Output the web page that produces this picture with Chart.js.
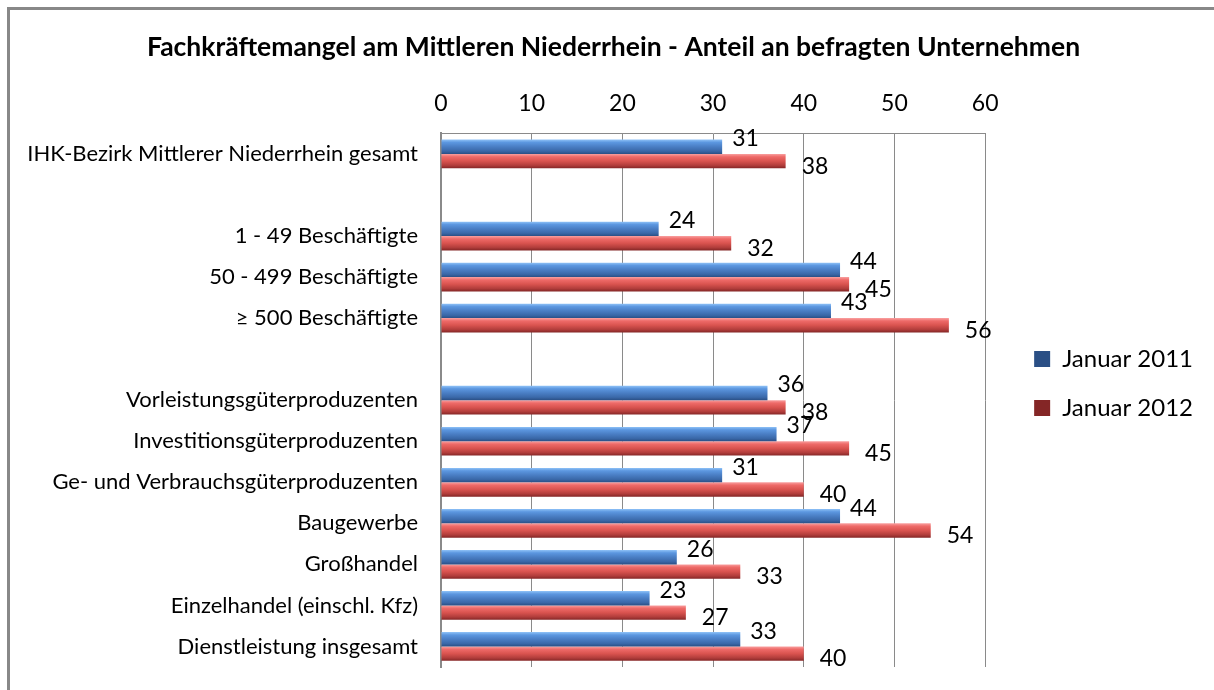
<!DOCTYPE html>
<html>
<head>
<meta charset="utf-8">
<script src="https://cdn.jsdelivr.net/npm/chart.js@4/dist/chart.umd.min.js"></script>
<style>
  html, body { margin: 0; padding: 0; background: #fff; }
  #wrap { position: relative; width: 1214px; height: 690px; overflow: hidden; }
  #frame { position: absolute; left: 7px; top: 7px; width: 1220px; height: 700px;
           border-left: 3px solid #888; border-top: 3px solid #888; box-sizing: border-box; pointer-events: none; }
  canvas { position: absolute; left: 0; top: 0; }
</style>
</head>
<body>
<div id="wrap">
  <canvas id="c" width="1214" height="690"></canvas>
  <div id="frame"></div>
</div>
<script>
const titleText = 'Fachkräftemangel am Mittleren Niederrhein - Anteil an befragten Unternehmen';
const categories = [
  'IHK-Bezirk Mittlerer Niederrhein gesamt',
  '',
  '1 - 49 Beschäftigte',
  '50 - 499 Beschäftigte',
  '≥ 500 Beschäftigte',
  '',
  'Vorleistungsgüterproduzenten',
  'Investitionsgüterproduzenten',
  'Ge- und Verbrauchsgüterproduzenten',
  'Baugewerbe',
  'Großhandel',
  'Einzelhandel (einschl. Kfz)',
  'Dienstleistung insgesamt'
];
const seriesNames = ['Januar 2011', 'Januar 2012'];
const jan2011 = [31, null, 24, 44, 43, null, 36, 37, 31, 44, 26, 23, 33];
const jan2012 = [38, null, 32, 45, 56, null, 38, 45, 40, 54, 33, 27, 40];
const xTicks = [0, 10, 20, 30, 40, 50, 60];

const FONT = 'Lato, "Open Sans", sans-serif';
const CAT_PCT = 0.7;

const palettes = [
  { solid: '#4a7ec4', stops: ['#8fc2f7', '#5c97e0', '#4a7ec4', '#3a68a8', '#2a4f85'] },
  { solid: '#d9534f', stops: ['#f9a0a0', '#ee6a68', '#d9534f', '#b13d3b', '#842626'] }
];

function barFill(ctx) {
  const pal = palettes[ctx.datasetIndex];
  const chart = ctx.chart;
  const y = chart.scales && chart.scales.y;
  if (ctx.type !== 'data' || !chart.chartArea || !y) return pal.solid;
  const c = y.getPixelForValue(ctx.dataIndex);
  const cat = y.height / categories.length;
  const h = cat * CAT_PCT / 2;
  const top = ctx.datasetIndex === 0 ? c - h : c;
  const g = chart.ctx.createLinearGradient(0, top, 0, top + h);
  g.addColorStop(0, pal.stops[0]);
  g.addColorStop(0.2, pal.stops[1]);
  g.addColorStop(0.5, pal.stops[2]);
  g.addColorStop(0.8, pal.stops[3]);
  g.addColorStop(1, pal.stops[4]);
  return g;
}

const valueLabels = {
  id: 'valueLabels',
  afterDatasetsDraw(chart) {
    const ctx = chart.ctx;
    ctx.save();
    ctx.font = '23px ' + FONT;
    ctx.fillStyle = '#000';
    ctx.textBaseline = 'middle';
    ctx.textAlign = 'left';
    chart.data.datasets.forEach((ds, di) => {
      const meta = chart.getDatasetMeta(di);
      meta.data.forEach((el, i) => {
        const v = ds.data[i];
        if (v === null || v === undefined) return;
        const dx = di === 0 ? 10 : 16;
        const dy = di === 0 ? -8 : 5;
        ctx.fillText(String(v), el.x + dx, el.y + dy);
      });
    });
    ctx.restore();
  }
};

const boxShift = {
  id: 'boxShift',
  afterLayout(chart) {
    const lg = chart.legend;
    if (lg) {
      lg.top += 50; lg.bottom += 50;
      lg.left += 24; lg.right += 24;
    }
    const tb = chart.titleBlock;
    if (tb) { tb.left += 24; tb.right += 24; }
  }
};

new Chart(document.getElementById('c'), {
  type: 'bar',
  data: {
    labels: categories,
    datasets: [
      { label: seriesNames[0], data: jan2011, backgroundColor: barFill, borderWidth: 0,
        categoryPercentage: CAT_PCT, barPercentage: 1 },
      { label: seriesNames[1], data: jan2012, backgroundColor: barFill, borderWidth: 0,
        categoryPercentage: CAT_PCT, barPercentage: 1 }
    ]
  },
  options: {
    indexAxis: 'y',
    responsive: false,
    animation: false,
    devicePixelRatio: 1,
    layout: { padding: { left: 0, right: 35, top: 0, bottom: 23 } },
    scales: {
      x: {
        position: 'top',
        min: 0, max: 60,
        afterBuildTicks: (s) => { s.ticks = xTicks.map(v => ({ value: v })); },
        ticks: { color: '#000', font: { family: FONT, size: 23 }, padding: 16 },
        grid: { color: '#8a8a8a', lineWidth: 1, drawTicks: false },
        border: { color: '#8a8a8a', width: 1 }
      },
      y: {
        afterFit: (s) => { s.width = 441; s.paddingTop = 0; s.paddingBottom = 0; },
        ticks: { color: '#000', font: { family: FONT, size: 22 }, padding: 23, autoSkip: false },
        grid: { display: true, drawOnChartArea: false, drawTicks: false },
        border: { color: '#8a8a8a', width: 2 }
      }
    },
    plugins: {
      title: {
        display: true, text: titleText, color: '#000',
        font: { family: FONT, size: 26.5, weight: 'bold' },
        padding: { top: 32, bottom: 10 }
      },
      legend: {
        position: 'right',
        labels: { color: '#000', font: { family: FONT, size: 24 }, boxWidth: 16, boxHeight: 16, padding: 25 }
      },
      tooltip: { enabled: false }
    }
  },
  plugins: [valueLabels, boxShift]
});
</script>
</body>
</html>
